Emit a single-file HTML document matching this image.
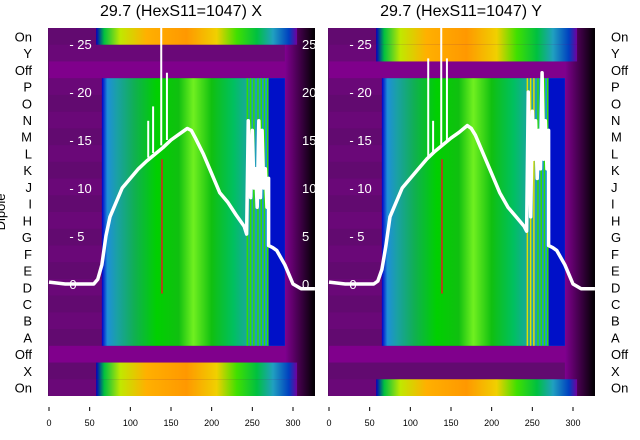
<!DOCTYPE html>
<html><head><meta charset="utf-8"><style>
body{margin:0;background:#fff;font-family:"Liberation Sans","DejaVu Sans",sans-serif}
svg{display:block}
</style></head><body>
<svg id="c" width="640" height="440" viewBox="0 0 640 440">
<defs>
<linearGradient id="gMain" x1="0" x2="1" y1="0" y2="0">
<stop offset="0" stop-color="#0000c8"/><stop offset="0.03" stop-color="#1e8fd8"/><stop offset="0.08" stop-color="#1aa0a8"/>
<stop offset="0.18" stop-color="#10b050"/><stop offset="0.3" stop-color="#00d000"/><stop offset="0.42" stop-color="#10c010"/>
<stop offset="0.5" stop-color="#70f020"/><stop offset="0.6" stop-color="#10c010"/><stop offset="0.72" stop-color="#00c060"/>
<stop offset="0.82" stop-color="#20a0b0"/><stop offset="0.9" stop-color="#1e90d8"/><stop offset="1" stop-color="#1080d0"/>
</linearGradient>
<linearGradient id="gBand" x1="0" x2="1" y1="0" y2="0">
<stop offset="0" stop-color="#0000c0"/><stop offset="0.04" stop-color="#00c040"/><stop offset="0.12" stop-color="#c0e800"/>
<stop offset="0.25" stop-color="#ffb000"/><stop offset="0.45" stop-color="#ff9800"/><stop offset="0.6" stop-color="#f0d000"/>
<stop offset="0.7" stop-color="#40e000"/><stop offset="0.8" stop-color="#00c040"/><stop offset="0.88" stop-color="#20a0c0"/>
<stop offset="0.96" stop-color="#0040c0"/><stop offset="1" stop-color="#7000a0"/>
</linearGradient>
<linearGradient id="gEdge" x1="0" x2="1" y1="0" y2="0">
<stop offset="0" stop-color="#800090"/><stop offset="0.5" stop-color="#400048"/><stop offset="1" stop-color="#000000"/>
</linearGradient>
<clipPath id="clipL"><rect x="48" y="28" width="267" height="368"/></clipPath>
<clipPath id="clipR"><rect x="328" y="28" width="267" height="368"/></clipPath>
</defs>
<g id="root"></g>
</svg>
<script>
const rowLabels=["On","Y","Off","P","O","N","M","L","K","J","I","H","G","F","E","D","C","B","A","Off","X","On"];
const xTicks=[0,50,100,150,200,250,300];
const yTicks=[0,5,10,15,20,25];
const curveX=[0,20,40,55,60,65,70,75,80,90,100,110,120,130,140,150,160,170,175,180,190,200,210,220,230,240,243];
const curveLeftY=[0.2,0,0,0,0.5,2,5,7,8,10,11,12,12.8,13.5,14.2,15,15.6,16.2,16,15.2,13.5,11.5,9.5,8.5,7.2,6,5.2];
const curveRightY=[0.2,0,0,0,0.3,1.5,4,7,8,10,11,12,13,13.8,14.5,15.2,15.8,16.5,16.2,15.5,13.5,11.5,9.5,8,7,6,5.5];
const tailX=[270,275,280,290,300,310,327];
const tailY=[4,3.8,3.5,2,0,-0.5,-0.5];
const noiseX=[245,248,250,252,254,256,258,260,262,264,266,268,270];
const noiseLeftY=[17,9,16,10,12,8,17,9,16,10,12,8,11];
const noiseRightY=[20,7,18,13,17,11,16,12,22,13,17,12,16];
const spikeLeftX=[122,128,138,145];
const spikeLeftY=[17,18.5,28,22];
const spikeRightX=[122,128,138,145];
const spikeRightY=[23.5,17,28,23.5];
const NS="http://www.w3.org/2000/svg";
const root=document.getElementById('root');
function mk(tag,attrs,parent){const e=document.createElementNS(NS,tag);for(const k in attrs)e.setAttribute(k,attrs[k]);(parent||root).appendChild(e);return e;}
const rowH=368/22;
function rowTop(i){return 28+i*rowH;}
function py(v){return 284-v*9.6;}
function drawPanel(x0,side,clip,topColored,botColored,lineY,nY,spX,spY,title){
  const px=v=>x0+1+v*0.8133;
  const g=mk('g',{'clip-path':'url(#'+clip+')'});
  
  
  mk('rect',{x:x0,y:28,width:267,height:368,fill:'#5c0a68'},g);
  for(let i=0;i<22;i++){
    const r=mk('rect',{x:px(0),y:rowTop(i),width:px(310)-px(0),height:rowH+0.5,fill:(rowLabels[i]==="Off")?'#80008c':(i%2?'#6a0878':'#620a70')},g);
    
    
  }
  mk('rect',{x:px(290),y:28,width:px(327)-px(290),height:368,fill:'url(#gEdge)'},g);
  const main=mk('rect',{x:px(65),y:rowTop(3),width:px(290)-px(65),height:rowH*16,fill:'url(#gMain)'},g);
  
  
  mk('rect',{x:px(270),y:rowTop(3),width:px(290)-px(270),height:rowH*16,fill:'#0010c8'},g);
  for(const s of [243,247,251,256,260,264,268]){
    mk('rect',{x:px(s),y:rowTop(3),width:1.5,height:rowH*16,fill:side==='right'&&s%2?'#e0e000':'#30e000'},g);
  }
  topColored.forEach(i=>{const b=mk('rect',{x:px(58),y:rowTop(i),width:px(305)-px(58),height:rowH,fill:'url(#gBand)'},g);
    });
  botColored.forEach(i=>{const b=mk('rect',{x:px(58),y:rowTop(i),width:px(305)-px(58),height:rowH,fill:'url(#gBand)'},g);
    });
  mk('rect',{x:px(138),y:py(13),width:1.5,height:py(-1)-py(13),fill:'#e02020'},g);
  // curve
  let pts=[];
  curveX.forEach((x,i)=>pts.push(px(x)+','+py(lineY[i])));
  nY.forEach((v,i)=>pts.push(px(noiseX[i])+','+py(v)));
  tailX.forEach((x,i)=>pts.push(px(x)+','+py(tailY[i])));
  const pl=mk('polyline',{points:pts.join(' '),fill:'none',stroke:'#fff','stroke-width':3.5,'stroke-linejoin':'round'},g);
  
  
  spX.forEach((x,i)=>{
    const base=py(13+(x-120)*0.08);
    const l=mk('line',{x1:px(x),x2:px(x),y1:base,y2:py(spY[i]),stroke:'#fff','stroke-width':2},g);
    
    
  });
  // inner y ticks
  yTicks.forEach(v=>{
    const t=mk('text',{x:px(25),y:py(v)+5,fill:'#fff','font-size':13},g);t.textContent=(v===0?'':'- ')+v;
    
  });
  // x ticks
  xTicks.forEach(v=>{
    mk('line',{x1:px(v),x2:px(v),y1:407,y2:411,stroke:'#000','stroke-width':1});
    const t=mk('text',{x:px(v),y:426,'text-anchor':'middle','font-size':9,fill:'#000'});t.textContent=v;
    
  });
  const tt=mk('text',{x:x0+133,y:16,'text-anchor':'middle','font-size':16,fill:'#000'});tt.textContent=title;
  
}
drawPanel(48,'left','clipL',[0],[20,21],curveLeftY,noiseLeftY,spikeLeftX,spikeLeftY,'29.7 (HexS11=1047) X');
// left panel right-edge tick labels peeking
yTicks.forEach(v=>{const t=mk('text',{x:302,y:py(v)+5,fill:'#fff','font-size':13,'clip-path':'url(#clipL)'});t.textContent=v;
  });
drawPanel(328,'right','clipR',[0,1],[21],curveRightY,noiseRightY,spikeRightX,spikeRightY,'29.7 (HexS11=1047) Y');
rowLabels.forEach((lab,i)=>{
  const y=rowTop(i)+rowH/2+5;
  const a=mk('text',{x:32,y:y,'text-anchor':'end','font-size':13,fill:'#000'});a.textContent=lab;
  
  const b=mk('text',{x:611,y:y,'font-size':13,fill:'#000'});b.textContent=lab;
  
});
const yl=mk('text',{x:5,y:212,'font-size':13,'text-anchor':'middle',transform:'rotate(-90 5 212)',fill:'#000'});yl.textContent='Dipole';

</script>
</body></html>
